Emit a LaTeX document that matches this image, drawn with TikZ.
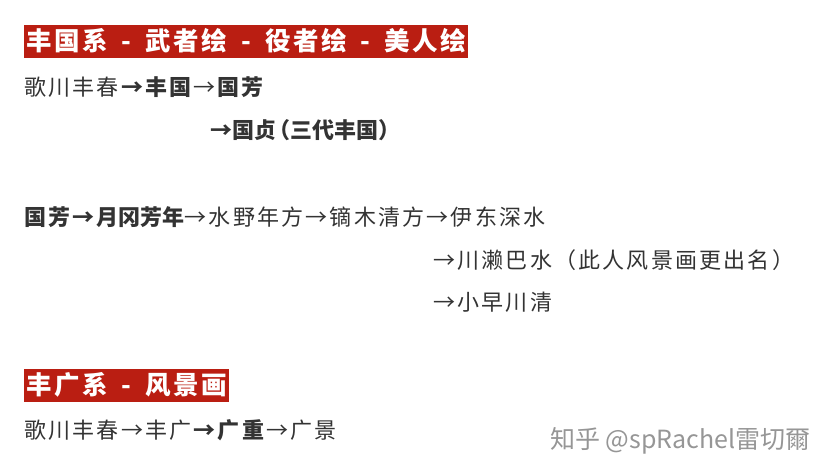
\documentclass[tikz,border=0pt]{standalone}
\usepackage{fontspec}
\setmainfont[LetterSpace=10]{Noto Sans CJK SC}
\newfontfamily\markfont{Noto Sans CJK SC}
\usepackage{xcolor}
\usetikzlibrary{positioning}
\definecolor{headred}{RGB}{186,30,18}
\definecolor{textgray}{RGB}{51,51,51}
\definecolor{markgray}{RGB}{150,150,150}
\newcommand{\dashsep}{\hspace{0.55em}-\hspace{0.55em}}
\newcommand{\tightbold}[1]{{\markfont\bfseries #1}}
\tikzset{
  headbox/.style={anchor=west,fill=headred,text=white,inner xsep=2pt,inner ysep=2pt,
    minimum height=33pt,font=\fontsize{25.5}{29}\selectfont\bfseries},
  lineitem/.style={anchor=west,inner sep=0pt,text=textgray,font=\fontsize{22}{26}\selectfont},
  markitem/.style={anchor=west,inner sep=0pt,text=markgray,font=\fontsize{25}{28}\markfont}
}
\begin{document}
\begin{tikzpicture}[x=1pt,y=-1pt]
  \useasboundingbox[fill=white] (0,0) rectangle (827,474);
  % 丰国系
  \node[headbox] (head1) at (24,41) {丰国系\dashsep 武者绘\dashsep 役者绘\dashsep 美人绘};
  \node[lineitem] (line1) at (24,87) {歌川丰春\textbf{→丰国}→\textbf{国芳}};
  \node[lineitem] (line2) at (210,130) {\tightbold{→国贞\hspace{-0.35em}（三代丰国）}};
  \node[lineitem] (line3) at (24,217) {\textbf{国芳→}\tightbold{月冈芳年}→水野年方→镝木清方→伊东深水};
  \node[lineitem] (line4) at (433,260) {→川濑巴水（此人风景画更出名）};
  \node[lineitem] (line5) at (433,302) {→小早川清};
  % 丰广系
  \node[headbox] (head2) at (24,385) {丰广系\dashsep 风景画};
  \node[lineitem] (line6) at (24,430) {歌川丰春→丰广\textbf{→广重}→广景};
  % watermark
  \node[markitem] (mark) at (550,441) {知乎 @spRachel雷切爾};
\end{tikzpicture}
\end{document}
